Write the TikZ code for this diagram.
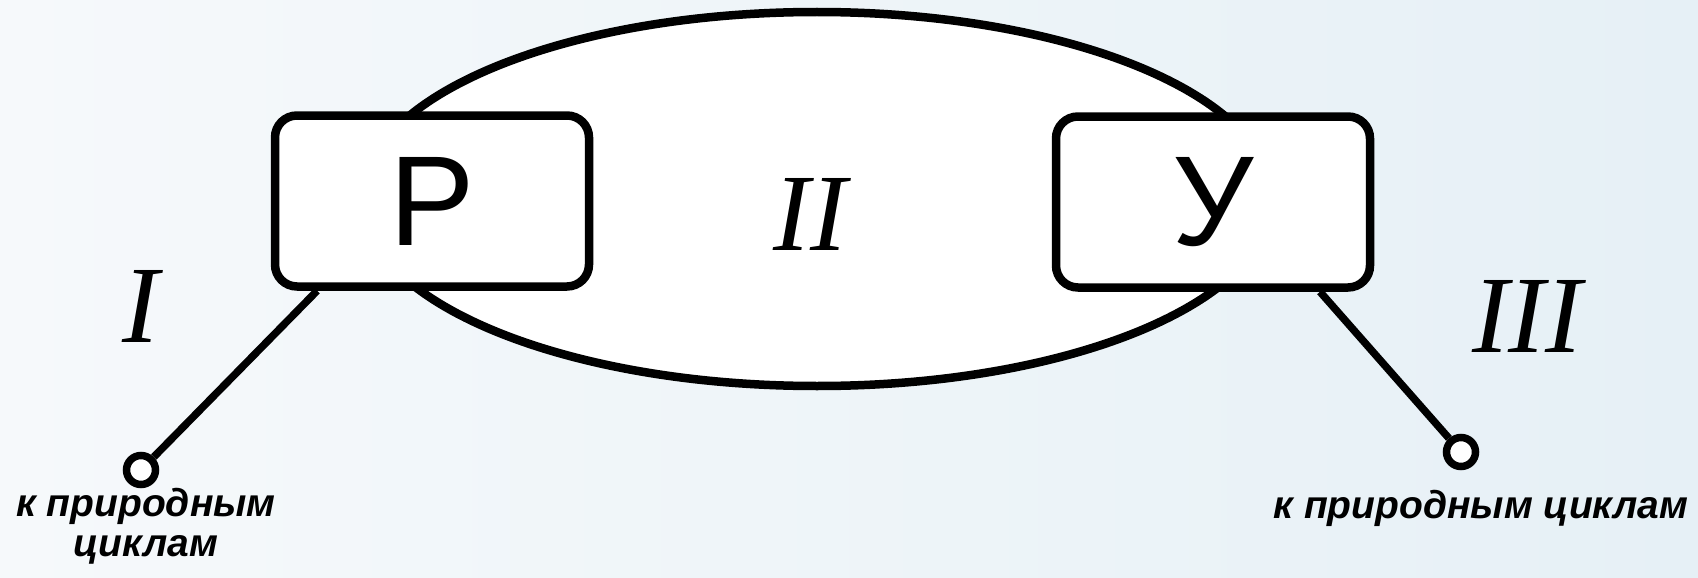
\documentclass[tikz,border=0pt]{standalone}
\usepackage{fontspec}
\setmainfont{Liberation Serif}
\setsansfont{Liberation Sans}
\usetikzlibrary{shapes.geometric,positioning}

\definecolor{icebg}{RGB}{230,240,246}
\definecolor{icebgl}{RGB}{246,249,251}

\begin{document}
\begin{tikzpicture}[x=1pt, y=-1pt,
  box/.style={draw, line width=8.5pt, fill=white, rounded corners=22pt,
    minimum width=314pt, minimum height=171pt, inner sep=0pt,
    font=\sffamily\fontsize{128}{128}\selectfont},
  cyc/.style={ellipse, draw, line width=8.5pt, fill=white, inner sep=0pt,
    minimum width=910pt, minimum height=374pt},
  wire/.style={line width=7.5pt},
  term/.style={circle, draw, line width=7.5pt, fill=white,
    minimum size=29pt, inner sep=0pt},
  num/.style={font=\itshape\fontsize{110}{110}\selectfont,
    inner sep=0pt, anchor=base},
  lab/.style={font=\sffamily\bfseries\itshape\fontsize{39}{40}\selectfont,
    inner sep=0pt, align=center},
]
\useasboundingbox (0,0) rectangle (1698,578);

% Background
\shade[left color=icebgl, right color=icebg] (0,0) rectangle (1698,578);

% Cycle
\node[cyc] (cycle) at (817,199) {};

% Blocks
\node[box] (rbox) at (432,201) {Р};
\node[box] (ubox) at (1213,202) {У};

% Terminals
\node[term] (lterm) at (141,470) {};
\node[term] (rterm) at (1461,452) {};

% Links
\draw[wire] (rbox.-142) -- (lterm);
\draw[wire] (ubox.-40) -- (rterm);

% Labels
\node[num] (one) at (141,342) {I};
\node[num] (two) at (810,250) {II};
\node[num] (three) at (1527,352) {III};
\node[lab, anchor=north] (lnote) at (146,488) {к природным\\циклам};
\node[lab, anchor=base] (rnote) at (1481,518) {к природным циклам};

\end{tikzpicture}
\end{document}
